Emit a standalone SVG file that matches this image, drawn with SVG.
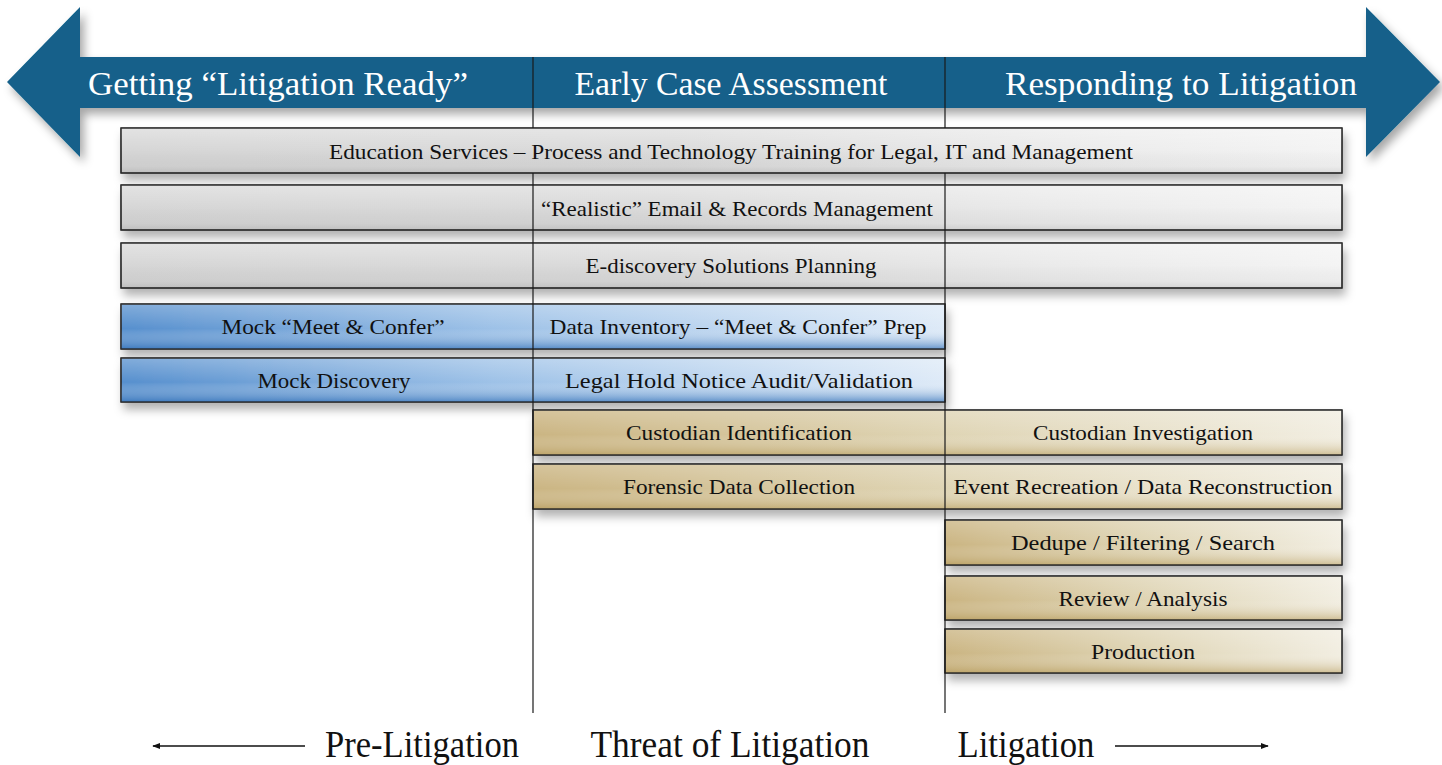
<svg xmlns="http://www.w3.org/2000/svg" width="1442" height="765" viewBox="0 0 1442 765">
<style>
text{font-family:'Liberation Serif','Times New Roman','DejaVu Serif',Times,serif}
.hd{font-size:34px;fill:#ffffff;text-anchor:middle}
.bx{font-size:21px;fill:#111111;text-anchor:middle}
.ft{font-size:37px;fill:#111111;text-anchor:middle}
.box{stroke:#2a2a2a;stroke-width:1.2}
.ov{stroke:none}
.div{stroke:#1a1a1a;stroke-width:1.2;fill:none}
.arr{stroke:#111111;stroke-width:1.3;fill:none}
</style>
<defs>
<filter id="sh" x="-5%" y="-30%" width="112%" height="180%">
<feDropShadow dx="3" dy="7" stdDeviation="5" flood-color="#000" flood-opacity="0.3"/>
</filter>
<filter id="ash" x="-5%" y="-10%" width="112%" height="130%">
<feDropShadow dx="4" dy="6" stdDeviation="5" flood-color="#000" flood-opacity="0.35"/>
</filter>
<linearGradient id="gGray" x1="0" y1="0" x2="1" y2="0">
<stop offset="0" stop-color="#d4d4d4"/>
<stop offset="0.45" stop-color="#d9d9d9"/>
<stop offset="0.75" stop-color="#e9e9e9"/>
<stop offset="1" stop-color="#f3f3f3"/>
</linearGradient>
<linearGradient id="gBlue" x1="0" y1="0" x2="1" y2="0">
<stop offset="0" stop-color="#4d89cb"/>
<stop offset="0.45" stop-color="#98bee6"/>
<stop offset="1" stop-color="#dce9f7"/>
</linearGradient>
<linearGradient id="gGold" x1="0" y1="0" x2="1" y2="0">
<stop offset="0" stop-color="#c8b17c"/>
<stop offset="0.5" stop-color="#ddd2b0"/>
<stop offset="1" stop-color="#f1ede0"/>
</linearGradient>
<linearGradient id="vGray" x1="0" y1="0" x2="0" y2="1">
<stop offset="0" stop-color="#ffffff" stop-opacity="0.35"/>
<stop offset="0.5" stop-color="#ffffff" stop-opacity="0.05"/>
<stop offset="0.85" stop-color="#000000" stop-opacity="0.03"/>
<stop offset="1" stop-color="#000000" stop-opacity="0.1"/>
</linearGradient>
<linearGradient id="vBlue" x1="0" y1="0" x2="0" y2="1">
<stop offset="0" stop-color="#ffffff" stop-opacity="0.3"/>
<stop offset="0.55" stop-color="#ffffff" stop-opacity="0.05"/>
<stop offset="1" stop-color="#3572b8" stop-opacity="0.7"/>
</linearGradient>
<linearGradient id="vGold" x1="0" y1="0" x2="0" y2="1">
<stop offset="0" stop-color="#ffffff" stop-opacity="0.25"/>
<stop offset="0.55" stop-color="#ffffff" stop-opacity="0.05"/>
<stop offset="1" stop-color="#b39857" stop-opacity="0.55"/>
</linearGradient>
<marker id="ah" viewBox="0 0 10 10" refX="9" refY="5" markerWidth="8" markerHeight="8" markerUnits="userSpaceOnUse" orient="auto-start-reverse">
<path d="M0,1 L10,5 L0,9 Z" fill="#111111"/>
</marker>
</defs>
<rect width="1442" height="765" fill="#ffffff"/>

<g id="phase-arrow">
<path d="M7,82 L80,7 L80,57 L1366,57 L1366,7 L1440,82 L1366,157 L1366,108 L80,108 L80,157 Z" fill="#12618a" filter="url(#ash)"/>
<text class="hd" x="278" y="95" textLength="380" lengthAdjust="spacingAndGlyphs" font-family="Liberation Serif, serif">Getting “Litigation Ready”</text>
<text class="hd" x="731" y="95" textLength="313" lengthAdjust="spacingAndGlyphs" font-family="Liberation Serif, serif">Early Case Assessment</text>
<text class="hd" x="1181" y="95" textLength="352" lengthAdjust="spacingAndGlyphs" font-family="Liberation Serif, serif">Responding to Litigation</text>
</g>

<g id="education">
<rect class="box" x="121" y="128" width="1221" height="45" fill="url(#gGray)" filter="url(#sh)"/>
<rect class="ov" x="121" y="128" width="1221" height="45" fill="url(#vGray)"/>
<rect class="box" x="121" y="128" width="1221" height="45" fill="none"/>
<text class="bx" x="731" y="159" textLength="804" lengthAdjust="spacingAndGlyphs">Education Services – Process and Technology Training for Legal, IT and Management</text>
</g>
<g id="records">
<rect class="box" x="121" y="185" width="1221" height="45" fill="url(#gGray)" filter="url(#sh)"/>
<rect class="ov" x="121" y="185" width="1221" height="45" fill="url(#vGray)"/>
<rect class="box" x="121" y="185" width="1221" height="45" fill="none"/>
<text class="bx" x="737" y="216" textLength="392" lengthAdjust="spacingAndGlyphs">“Realistic” Email &amp; Records Management</text>
</g>
<g id="planning">
<rect class="box" x="121" y="243" width="1221" height="45" fill="url(#gGray)" filter="url(#sh)"/>
<rect class="ov" x="121" y="243" width="1221" height="45" fill="url(#vGray)"/>
<rect class="box" x="121" y="243" width="1221" height="45" fill="none"/>
<text class="bx" x="731" y="273" textLength="291" lengthAdjust="spacingAndGlyphs">E-discovery Solutions Planning</text>
</g>

<g id="meet-confer">
<rect class="box" x="121" y="304" width="824" height="45" fill="url(#gBlue)" filter="url(#sh)"/>
<rect class="ov" x="121" y="304" width="824" height="45" fill="url(#vBlue)"/>
<rect class="box" x="121" y="304" width="824" height="45" fill="none"/>
<text class="bx" x="333" y="334" textLength="223" lengthAdjust="spacingAndGlyphs">Mock “Meet &amp; Confer”</text>
<text class="bx" x="738" y="334" textLength="377" lengthAdjust="spacingAndGlyphs">Data Inventory – “Meet &amp; Confer” Prep</text>
</g>
<g id="mock-discovery">
<rect class="box" x="121" y="358" width="824" height="44" fill="url(#gBlue)" filter="url(#sh)"/>
<rect class="ov" x="121" y="358" width="824" height="44" fill="url(#vBlue)"/>
<rect class="box" x="121" y="358" width="824" height="44" fill="none"/>
<text class="bx" x="334" y="388" textLength="153" lengthAdjust="spacingAndGlyphs">Mock Discovery</text>
<text class="bx" x="739" y="388" textLength="348" lengthAdjust="spacingAndGlyphs">Legal Hold Notice Audit/Validation</text>
</g>

<g id="custodian">
<rect class="box" x="533" y="410" width="809" height="45" fill="url(#gGold)" filter="url(#sh)"/>
<rect class="ov" x="533" y="410" width="809" height="45" fill="url(#vGold)"/>
<rect class="box" x="533" y="410" width="809" height="45" fill="none"/>
<text class="bx" x="739" y="440" textLength="226" lengthAdjust="spacingAndGlyphs">Custodian Identification</text>
<text class="bx" x="1143" y="440" textLength="220" lengthAdjust="spacingAndGlyphs">Custodian Investigation</text>
</g>
<g id="forensic">
<rect class="box" x="533" y="464" width="809" height="45" fill="url(#gGold)" filter="url(#sh)"/>
<rect class="ov" x="533" y="464" width="809" height="45" fill="url(#vGold)"/>
<rect class="box" x="533" y="464" width="809" height="45" fill="none"/>
<text class="bx" x="739" y="494" textLength="232" lengthAdjust="spacingAndGlyphs">Forensic Data Collection</text>
<text class="bx" x="1143" y="494" textLength="379" lengthAdjust="spacingAndGlyphs">Event Recreation / Data Reconstruction</text>
</g>
<g id="dedupe">
<rect class="box" x="945" y="520" width="397" height="45" fill="url(#gGold)" filter="url(#sh)"/>
<rect class="ov" x="945" y="520" width="397" height="45" fill="url(#vGold)"/>
<rect class="box" x="945" y="520" width="397" height="45" fill="none"/>
<text class="bx" x="1143" y="550" textLength="264" lengthAdjust="spacingAndGlyphs">Dedupe / Filtering / Search</text>
</g>
<g id="review">
<rect class="box" x="945" y="576" width="397" height="44" fill="url(#gGold)" filter="url(#sh)"/>
<rect class="ov" x="945" y="576" width="397" height="44" fill="url(#vGold)"/>
<rect class="box" x="945" y="576" width="397" height="44" fill="none"/>
<text class="bx" x="1143" y="606" textLength="169" lengthAdjust="spacingAndGlyphs">Review / Analysis</text>
</g>
<g id="production">
<rect class="box" x="945" y="629" width="397" height="44" fill="url(#gGold)" filter="url(#sh)"/>
<rect class="ov" x="945" y="629" width="397" height="44" fill="url(#vGold)"/>
<rect class="box" x="945" y="629" width="397" height="44" fill="none"/>
<text class="bx" x="1143" y="659" textLength="104" lengthAdjust="spacingAndGlyphs">Production</text>
</g>

<g id="connectors">
<line class="div" x1="533" y1="57" x2="533" y2="128"/>
<line class="div" x1="533" y1="173" x2="533" y2="713"/>
<line class="div" x1="945" y1="57" x2="945" y2="128"/>
<line class="div" x1="945" y1="173" x2="945" y2="713"/>
<line class="arr" x1="305" y1="746" x2="153" y2="746" marker-end="url(#ah)"/>
<line class="arr" x1="1115" y1="746" x2="1268" y2="746" marker-end="url(#ah)"/>
</g>

<g id="bottom-labels">
<text class="ft" x="422" y="757" textLength="194" lengthAdjust="spacingAndGlyphs">Pre-Litigation</text>
<text class="ft" x="730" y="757" textLength="279" lengthAdjust="spacingAndGlyphs">Threat of Litigation</text>
<text class="ft" x="1026" y="757" textLength="137" lengthAdjust="spacingAndGlyphs">Litigation</text>
</g>
</svg>
